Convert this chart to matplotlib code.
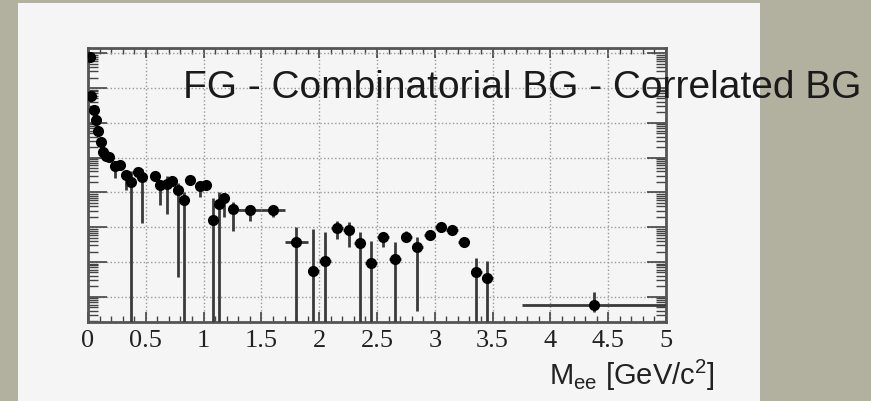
import matplotlib
matplotlib.use('Agg')
import matplotlib.pyplot as plt
import numpy as np
from matplotlib.patches import Rectangle
from matplotlib.ticker import MultipleLocator, LogLocator, NullFormatter

# Data (y axis has no labels, arbitrary log units)
mass = [0.02, 0.03, 0.055, 0.07, 0.09, 0.115, 0.13, 0.155, 0.18, 0.23,
        0.28, 0.33, 0.375, 0.43, 0.47, 0.58, 0.62, 0.68, 0.725, 0.78,
        0.83, 0.88, 0.97, 1.02, 1.077, 1.13, 1.18, 1.25, 1.40, 1.60,
        1.80, 1.95, 2.05, 2.155, 2.255, 2.35, 2.45, 2.55, 2.655, 2.755,
        2.85, 2.955, 3.05, 3.15, 3.25, 3.36, 3.455, 4.375]
yields = [7.8, 0.59, 0.23, 0.12, 0.058, 0.028, 0.0145, 0.0111, 0.0104, 0.0057,
          0.0061, 0.0032, 0.0020, 0.0039, 0.0028, 0.0030, 0.00163, 0.00174, 0.00213, 0.00117,
          6.0e-4, 0.00227, 0.00153, 0.00163, 1.6e-4, 4.6e-4, 6.9e-4, 3.3e-4, 3.1e-4, 3.1e-4,
          3.8e-5, 5.5e-6, 1.07e-5, 9.5e-5, 8.3e-5, 3.5e-5, 9.4e-6, 5.2e-5, 1.22e-5, 5.2e-5,
          2.7e-5, 6.0e-5, 1.0e-4, 8.3e-5, 3.8e-5, 5.2e-6, 3.5e-6, 5.8e-7]
# upper / lower ends of the error bars (None = bar hidden under the marker, 0 = runs off the axis)
err_hi = [None, None, None, None, None, None, None, None, None, None,
          None, None, 4.1e-3, None, 4.7e-3, None, None, 3.0e-3, None, 1.9e-3,
          1.0e-3, None, None, None, 6.9e-4, 1.0e-3, 9.6e-4, 5.3e-4, None, None,
          1.0e-4, 8.9e-5, 7.3e-5, 1.5e-4, 1.4e-4, 7.3e-5, 4.0e-5, 7.3e-5, 3.7e-5, 7.7e-5,
          5.2e-5, None, None, None, None, 1.3e-5, 1.07e-5, 1.4e-6]
err_lo = [None, None, None, None, None, None, None, None, None, 2.6e-3,
          None, 1.2e-3, 0, None, 1.3e-4, None, 4.4e-4, 2.4e-4, None, 3.7e-6,
          0, None, 7.4e-4, None, 0, 0, 2.0e-4, 7.8e-5, 1.5e-4, 2.0e-4,
          0, 0, 0, 4.6e-5, 2.7e-5, 0, 0, 2.7e-5, 0, 3.7e-5,
          3.9e-7, None, None, None, None, 0, 0, 3.6e-7]
mass_err = [0] * 28 + [0.1, 0.1, 0.1] + [0.05] * 16 + [0.625]

y = np.array(yields)
hi = np.array([y[i] if v is None else v for i, v in enumerate(err_hi)])
lo = np.array([y[i] if v is None else v for i, v in enumerate(err_lo)])
yerr = np.vstack([y - lo, hi - y])

W, H = 871, 402
fig = plt.figure(figsize=(W / 100, H / 100), dpi=100)
fig.patch.set_facecolor('#b2b09f')
fig.patches.append(Rectangle((18 / W, 0), (760 - 18) / W, (402 - 4) / H,
                             transform=fig.transFigure, facecolor='#f5f5f5',
                             edgecolor='none', zorder=-5))

ax = fig.add_axes([88 / W, (H - 323) / H, (666 - 88) / W, (323 - 49) / H])
ax.set_facecolor('#f5f5f5')
ax.set_yscale('log')
ax.set_xlim(0, 5)
ax.set_ylim(10 ** -6.724, 10 ** 1.149)

ax.errorbar(mass, y, yerr=yerr, xerr=mass_err, fmt='o', color='black',
            ecolor='#3a3a3a', elinewidth=2, markersize=7, capsize=0, zorder=3)

ax.xaxis.set_major_locator(MultipleLocator(0.5))
ax.xaxis.set_minor_locator(MultipleLocator(0.1))
ax.yaxis.set_major_locator(LogLocator(base=10, numticks=20))
ax.yaxis.set_minor_locator(LogLocator(base=10, subs=np.arange(2, 10), numticks=20))
ax.yaxis.set_major_formatter(NullFormatter())
ax.yaxis.set_minor_formatter(NullFormatter())
ax.xaxis.set_major_formatter(matplotlib.ticker.FuncFormatter(lambda v, p: f'{v:g}'))

ax.tick_params(axis='x', which='major', direction='in', top=True, length=7, width=1.2, color='#444')
ax.tick_params(axis='x', which='minor', direction='in', top=True, length=4, width=1, color='#444')
ax.tick_params(axis='y', which='major', direction='in', right=True, length=14, width=1.2, color='#444')
ax.tick_params(axis='y', which='minor', direction='in', right=True, length=7, width=1, color='#444')
ax.tick_params(axis='x', labelsize=19, pad=5, labelcolor='#222')
for lab in ax.get_xticklabels():
    lab.set_family('Liberation Serif')

for s in ax.spines.values():
    s.set_linewidth(2)
    s.set_color('#555')

ax.grid(True, which='major', linestyle=':', color='#999', linewidth=1)
ax.set_axisbelow(True)

plt.rcParams['mathtext.default'] = 'regular'
fig.text(715 / W, 1 - 375 / H, r'M$_{ee}$ [GeV/c$^2$]', ha='right', va='center',
         fontsize=21, family='Liberation Sans', color='#222')
fig.text(183 / W, 1 - 88 / H, 'FG - Combinatorial BG - Correlated BG', ha='left',
         va='center', fontsize=28, family='Liberation Sans', color='#1a1a1a', zorder=10)

fig.savefig('out.png', dpi=100, facecolor=fig.get_facecolor())
